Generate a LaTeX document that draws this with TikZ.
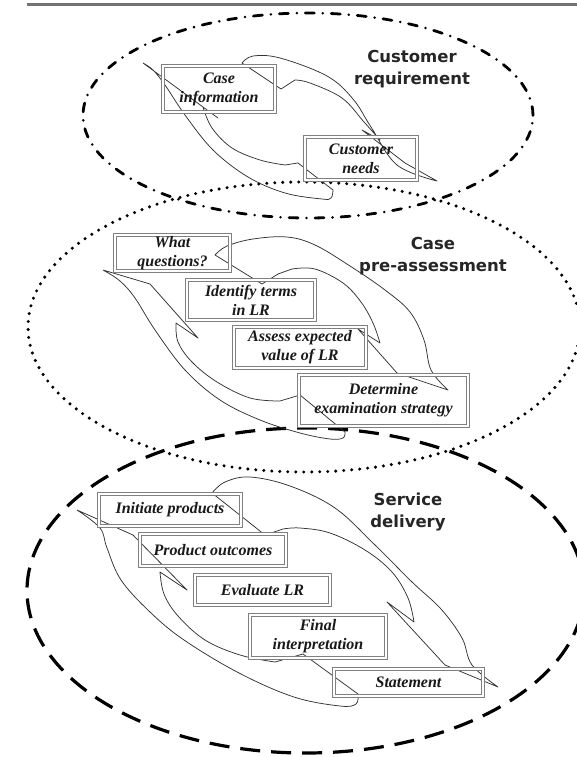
\documentclass[tikz,border=0pt]{standalone}
\usepackage{fontspec}
\setmainfont{Liberation Serif}
\newfontfamily\hdrfont{DejaVu Sans}
\begin{document}
\begin{tikzpicture}[x=1pt,y=-1pt,
  box/.style={draw=black!50, double=white, double distance=2.4pt, line width=0.85pt,
    font=\bfseries\itshape\fontsize{16}{19}\selectfont, text=black!90, align=center, inner sep=0pt},
  hdr/.style={font=\hdrfont\bfseries\fontsize{16.5}{22}\selectfont, text=black!85, align=center},
  swoosh/.style={draw=black!80, line width=0.75pt, line join=round},
  dashdotline/.style={line width=2.8pt, line cap=round, dash pattern=on 9pt off 8.5pt on 0pt off 8.5pt},
  dotline/.style={line width=3.4pt, line cap=round, dash pattern=on 0pt off 8pt},
  dashline/.style={line width=3.2pt, dash pattern=on 20pt off 11pt}
]
\useasboundingbox (0,0) rectangle (577,757);
\fill[white] (0,0) rectangle (577,757);
\draw[line width=3pt, black!55] (27,5) -- (577,5);

% ellipses
\draw[dashdotline] (308,115.5) ellipse [x radius=225pt, y radius=102.5pt];
\draw[dotline] (304,327) ellipse [x radius=276pt, y radius=145pt];
\draw[dashline] (305.6,590.5) ellipse [x radius=278.6pt, y radius=162.5pt];

% section 1 swooshes
\draw[swoosh] plot[smooth,tension=0.6] coordinates {(242,63) (253,56) (280,58) (327,76) (353,99) (371,127) (397,165) (437,181)}
  -- (405,163) -- (362,130) -- (380,140)
  -- plot[smooth,tension=0.6] coordinates {(380,140) (364,122) (342,98) (310,83) (295,80)}
  -- (281,89) -- cycle;
\draw[swoosh] (143,63) -- (218,118) -- (203,107)
  -- plot[smooth,tension=0.6] coordinates {(203,107) (212,128) (232,148) (260,160) (285,165)}
  -- (298,163) -- (333,190)
  -- plot[smooth,tension=0.6] coordinates {(333,190) (331,198) (322,199) (285,193) (248,177) (213,150) (185,115) (165,85) (153,70) (143,63)};

% section 2 swooshes
\draw[swoosh] plot[smooth,tension=0.6] coordinates {(215,255) (227,246) (253,239) (287,237) (315,245) (350,266) (385,290) (410,312) (424,340) (431,370) (448,390)}
  -- (397,373) -- (358,329) -- (380,343)
  -- plot[smooth,tension=0.6] coordinates {(380,343) (373,323) (361,302) (343,283) (315,269) (292,269)}
  -- (278,274) -- (262,284) -- cycle;
\draw[swoosh] (103,270) -- (150,284) -- (198,338) -- (176,323)
  -- plot[smooth,tension=0.6] coordinates {(176,323) (178,342) (192,362) (217,382) (250,398) (280,401)}
  -- (300,395) -- (345,432)
  -- plot[smooth,tension=0.6] coordinates {(345,432) (343,438) (330,439) (300,433) (260,420) (220,400) (185,370) (155,330) (135,298) (120,281) (103,270)};

% section 3 swooshes
\draw[swoosh] plot[smooth,tension=0.6] coordinates {(212,493) (225,482) (250,477) (290,486) (335,508) (375,545) (412,582) (441,609) (462,638) (472,665) (498,687)}
  -- (445,665) -- (387,602) -- (414,622)
  -- plot[smooth,tension=0.6] coordinates {(414,622) (408,598) (392,572) (365,550) (330,533) (300,528) (283,529)}
  -- (265,535) -- cycle;
\draw[swoosh] (77,510) -- (133,535) -- (187,590) -- (160,572)
  -- plot[smooth,tension=0.6] coordinates {(160,572) (164,594) (178,616) (205,640) (240,655) (275,662)}
  -- (303,654) -- (358,694)
  -- plot[smooth,tension=0.6] coordinates {(358,694) (356,704) (340,706) (294,697) (239,673) (184,640) (150,612) (121,580) (107,548) (100,528) (77,510)};

% boxes
\node[box, minimum width=112pt, minimum height=46pt] (caseinfo) at (219,89) {Case\\information};
\node[box, minimum width=112pt, minimum height=43pt] (custneeds) at (361,158.5) {Customer\\needs};
\node[box, minimum width=115pt, minimum height=36pt] (whatq) at (172.5,253) {What\\questions?};
\node[box, minimum width=128pt, minimum height=40pt] (identify) at (251,300) {Identify terms\\in LR};
\node[box, minimum width=132pt, minimum height=41pt] (assess) at (300,347.5) {Assess expected\\value of LR};
\node[box, minimum width=169pt, minimum height=51pt] (determine) at (383.5,400.5) {Determine\\examination strategy};
\node[box, minimum width=142pt, minimum height=32pt] (initiate) at (170,510) {Initiate products};
\node[box, minimum width=146pt, minimum height=32pt] (product) at (213,550) {Product outcomes};
\node[box, minimum width=135pt, minimum height=30pt] (evaluate) at (262.5,590) {Evaluate LR};
\node[box, minimum width=136pt, minimum height=43pt] (final) at (318,636.5) {Final\\interpretation};
\node[box, minimum width=149pt, minimum height=27pt] (statement) at (408.5,682.5) {Statement};

% headers
\node[hdr] (custreq) at (412,69) {Customer\\requirement};
\node[hdr] (casepre) at (433,256) {Case\\pre-assessment};
\node[hdr] (service) at (408,512) {Service\\delivery};
\end{tikzpicture}
\end{document}
